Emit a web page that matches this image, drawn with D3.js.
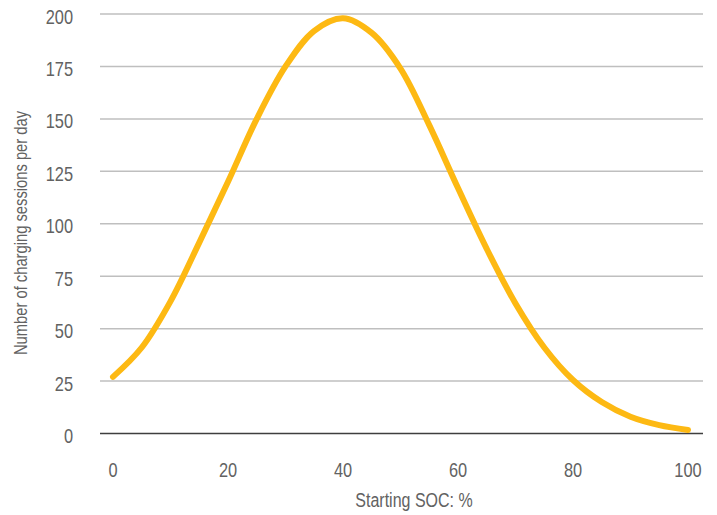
<!DOCTYPE html>
<html><head><meta charset="utf-8">
<script src="https://cdn.jsdelivr.net/npm/d3@7"></script>
<style>
html,body{margin:0;padding:0;background:#fff;}
text{font-family:"Liberation Sans",Arial,sans-serif;fill:#626262;}
</style></head>
<body>
<svg id="chart" width="717" height="515"></svg>
<script>
const socValues = [0,5,10,15,20,25,30,35,40,45,50,55,60,65,70,75,80,85,90,95,100];
const sessionsPerDay = [27,41,63,91,120,150,175,192,198,191,174,147,117,88,62,41,25.5,15,8,4,1.7];
const yTicks = [0,25,50,75,100,125,150,175,200];
const xTicks = [0,20,40,60,80,100];
const xTitle = "Starting SOC: %";
const yTitle = "Number of charging sessions per day";

const svg = d3.select("#chart");
const x = d3.scaleLinear().domain([0,100]).range([113,688]);
const y = d3.scaleLinear().domain([0,200]).range([433.5,14]);
const gridLeft = 100, gridRight = 703;
const sx = 0.82; // condensed look

svg.append("g").selectAll("line").data(yTicks.filter(d=>d!==0)).join("line")
  .attr("x1",gridLeft).attr("x2",gridRight)
  .attr("y1",d=>y(d)).attr("y2",d=>y(d))
  .attr("stroke","#bfbfbf").attr("stroke-width",1.5);

svg.append("line").attr("x1",gridLeft).attr("x2",gridRight)
  .attr("y1",y(0)).attr("y2",y(0)).attr("stroke","#3f3f3f").attr("stroke-width",1.5);

svg.append("g").selectAll("text").data(yTicks).join("text")
  .attr("transform",d=>`translate(73,${y(d)+9.5}) scale(${sx},1)`)
  .attr("text-anchor","end").attr("font-size",20).text(d=>d);

svg.append("g").selectAll("text").data(xTicks).join("text")
  .attr("transform",d=>`translate(${x(d)},477) scale(${sx},1)`)
  .attr("text-anchor","middle").attr("font-size",20).text(d=>d);

svg.append("text").attr("transform",`translate(414,507) scale(${sx},1)`)
  .attr("text-anchor","middle").attr("font-size",19.5).text(xTitle);
svg.append("text").attr("transform",`translate(27,233) rotate(-90) scale(${sx},1)`)
  .attr("text-anchor","middle").attr("font-size",18).text(yTitle);

const data = socValues.map((s,i)=>({s, v: sessionsPerDay[i]}));
svg.append("path").datum(data)
  .attr("fill","none").attr("stroke","#FDB913").attr("stroke-width",6)
  .attr("stroke-linecap","round").attr("stroke-linejoin","round")
  .attr("d", d3.line().x(d=>x(d.s)).y(d=>y(d.v)).curve(d3.curveCatmullRom.alpha(0.5)));
</script>
</body></html>
